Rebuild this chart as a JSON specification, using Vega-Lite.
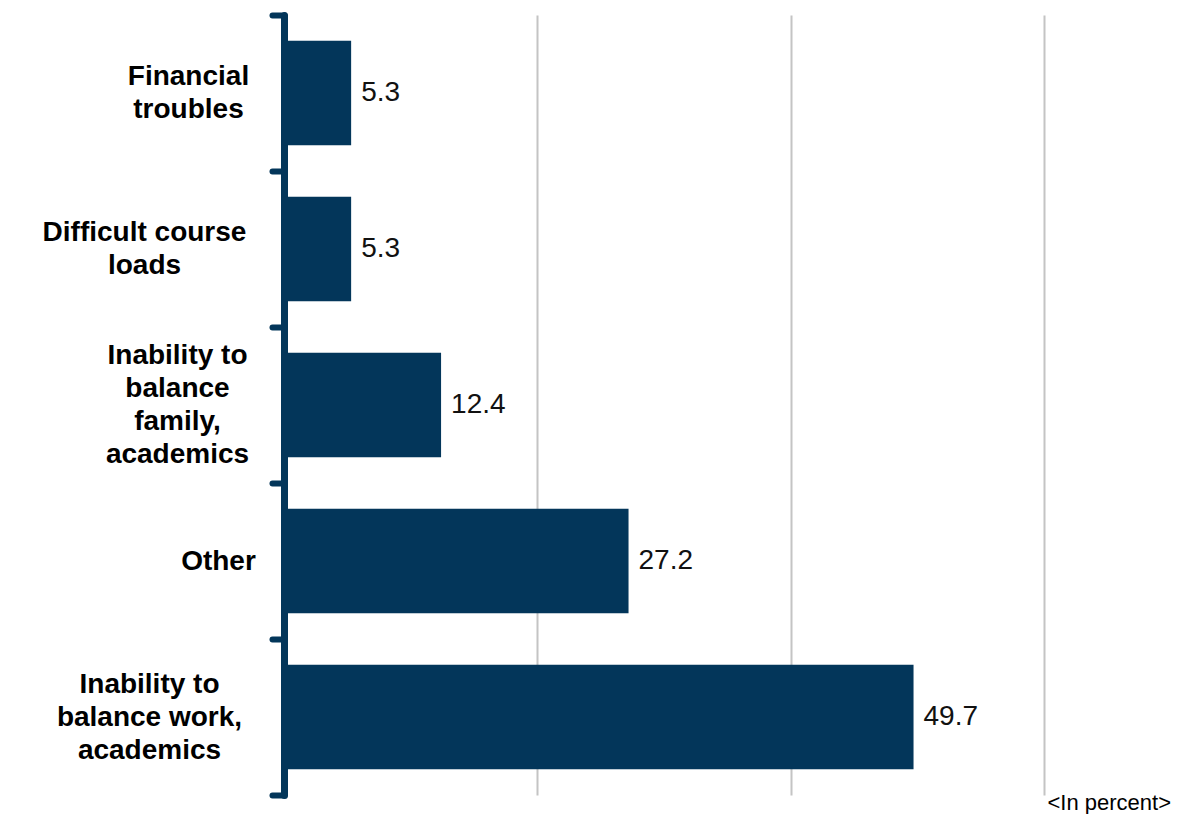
{
  "$schema": "https://vega.github.io/schema/vega-lite/v6.json",
  "autosize": "none",
  "width": 760,
  "height": 780,
  "padding": {"left": 284, "top": 15, "right": 153, "bottom": 19},
  "background": "white",
  "config": {"view": {"stroke": null}, "font": "Liberation Sans"},
  "data": {
    "values": [
      {"category": "Financial troubles", "value": 5.3},
      {"category": "Difficult course loads", "value": 5.3},
      {"category": "Inability to balance family, academics", "value": 12.4},
      {"category": "Other", "value": 27.2},
      {"category": "Inability to balance work, academics", "value": 49.7}
    ]
  },
  "encoding": {
    "y": {
      "field": "category",
      "type": "nominal",
      "sort": null,
      "scale": {"paddingInner": 0, "paddingOuter": 0},
      "axis": {
        "title": null,
        "tickBand": "extent",
        "domainColor": "#03365a",
        "domainWidth": 7,
        "domainCap": "round",
        "tickColor": "#03365a",
        "tickWidth": 6,
        "tickSize": 12,
        "tickCap": "round",
        "grid": false,
        "labelFont": "Liberation Sans",
        "labelFontWeight": "bold",
        "labelFontSize": 28,
        "labelColor": "#000000",
        "labelLineHeight": 33,
        "labelAlign": "center",
        "labelBaseline": "middle",
        "labelLimit": 400,
        "labelPadding": {
          "condition": [
            {"test": "datum.value === 'Financial troubles'", "value": 84},
            {"test": "datum.value === 'Difficult course loads'", "value": 128},
            {"test": "datum.value === 'Inability to balance family, academics'", "value": 95},
            {"test": "datum.value === 'Other'", "value": 54}
          ],
          "value": 123
        },
        "labelOffset": {
          "condition": [
            {"test": "datum.value === 'Financial troubles'", "value": -16.5},
            {"test": "datum.value === 'Difficult course loads'", "value": -16.5},
            {"test": "datum.value === 'Inability to balance family, academics'", "value": -49.5},
            {"test": "datum.value === 'Other'", "value": 0}
          ],
          "value": -33
        },
        "labelExpr": "datum.value === 'Financial troubles' ? ['Financial', 'troubles'] : datum.value === 'Difficult course loads' ? ['Difficult course', 'loads'] : datum.value === 'Inability to balance family, academics' ? ['Inability to', 'balance', 'family,', 'academics'] : datum.value === 'Other' ? 'Other' : datum.value === 'Inability to balance work, academics' ? ['Inability to', 'balance work,', 'academics'] : ''"
      }
    }
  },
  "layer": [
    {
      "mark": {"type": "bar", "color": "#03365a", "height": {"band": 0.67}},
      "encoding": {
        "x": {
          "field": "value",
          "type": "quantitative",
          "scale": {"domain": [0, 60], "nice": false},
          "axis": {
            "values": [20, 40, 60],
            "labels": false,
            "ticks": false,
            "domain": false,
            "grid": true,
            "gridColor": "#c4c4c4",
            "gridWidth": 2,
            "title": "<In percent>",
            "titleFont": "Liberation Sans",
            "titleFontSize": 22,
            "titleFontWeight": "normal",
            "titleColor": "#000000",
            "titleAlign": "left",
            "titleBaseline": "top",
            "titleAnchor": "start",
            "titleX": 763,
            "titleY": -3
          }
        }
      }
    },
    {
      "mark": {"type": "text", "align": "left", "baseline": "middle", "dx": 10, "fontSize": 28, "font": "Liberation Sans", "color": "#111111"},
      "encoding": {
        "x": {"field": "value", "type": "quantitative"},
        "text": {"field": "value", "type": "quantitative", "format": ".1f"}
      }
    }
  ]
}
